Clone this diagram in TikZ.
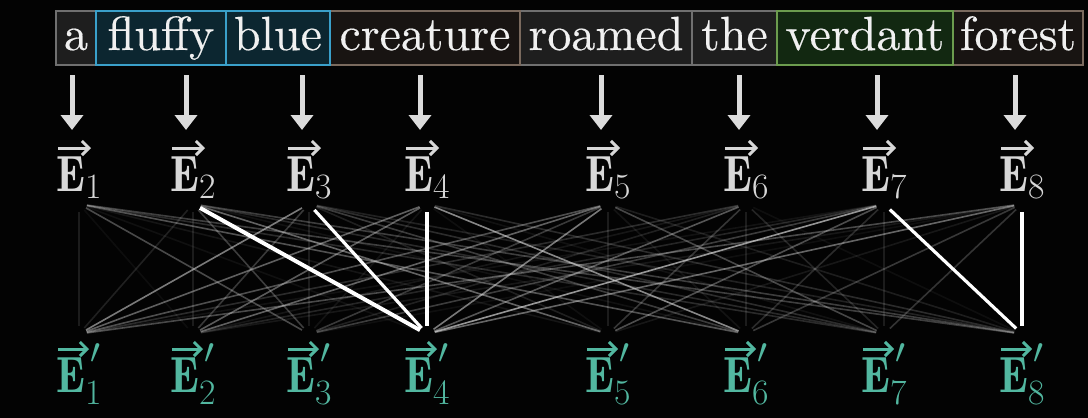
\RequirePackage{fix-cm}
\documentclass[tikz,border=0pt]{standalone}
\usepackage{amsmath}
\usepackage{fontspec}
\newfontfamily\tokfont{lmroman10-regular.otf}[FakeBold=0.3]
\usetikzlibrary{arrows.meta}
\definecolor{bgblack}{RGB}{3,3,3}
\definecolor{tokgrayfill}{RGB}{30,30,30}
\definecolor{tokgrayline}{RGB}{112,112,112}
\definecolor{tokbluefill}{RGB}{12,38,48}
\definecolor{tokblueline}{RGB}{58,160,202}
\definecolor{tokbrownfill}{RGB}{24,20,18}
\definecolor{tokbrownline}{RGB}{122,106,94}
\definecolor{tokgreenfill}{RGB}{18,40,17}
\definecolor{tokgreenline}{RGB}{108,156,78}
\definecolor{toktext}{RGB}{240,240,240}
\definecolor{elabcol}{RGB}{215,215,215}
\definecolor{eplabcol}{RGB}{82,183,160}
\definecolor{arrowcol}{RGB}{220,220,220}
\definecolor{attncol}{RGB}{215,215,215}
\begin{document}
\begin{tikzpicture}[x=0.5pt,y=-0.5pt,
  tok/.style={draw, line width=1pt, inner sep=0pt, text height=19.5pt, text depth=7.5pt,
    text=toktext, font=\tokfont\fontsize{24}{29}\selectfont},
  tokgray/.style={tok, fill=tokgrayfill, draw=tokgrayline},
  tokblue/.style={tok, fill=tokbluefill, draw=tokblueline},
  tokbrown/.style={tok, fill=tokbrownfill, draw=tokbrownline},
  tokgreen/.style={tok, fill=tokgreenfill, draw=tokgreenline},
  tokarrow/.style={draw=arrowcol, line width=2.5pt, -{Triangle[width=11pt,length=7.5pt]}},
  elab/.style={inner sep=0pt, anchor=base west, text=elabcol, font=\fontsize{25.5}{30}\selectfont},
  eplab/.style={inner sep=0pt, anchor=base west, text=eplabcol, font=\fontsize{25.5}{30}\selectfont},
  vecarrow/.style={line width=1.5pt, -{Straight Barb[length=3.5pt,width=7pt]}},
  attn/.style={draw=attncol, line width=0.8pt, shorten >=4pt, shorten <=4pt},
  strong/.style={draw=white, line width=1.6pt, shorten >=4pt, shorten <=4pt}
]
\fill[bgblack] (0,0) rectangle (1088,418);
\useasboundingbox (0,0) rectangle (1088,418);

% token boxes
\node[tokgray,  minimum width=20pt]   (w1) at (76,38)    {a};
\node[tokgray,  minimum width=86pt]   (w5) at (606,38)   {roamed};
\node[tokgray,  minimum width=42.5pt] (w6) at (734.5,38) {the};
\node[tokbrown, minimum width=95pt]   (w4) at (425,38)   {creature};
\node[tokbrown, minimum width=65pt]   (w8) at (1018,38)  {forest};
\node[tokblue,  minimum width=65pt]   (w2) at (161,38)   {fluffy};
\node[tokblue,  minimum width=52pt]   (w3) at (278,38)   {blue};
\node[tokgreen, minimum width=88pt]   (w7) at (865,38)   {verdant};

% columns
\foreach \i/\x in {1/72,2/186,3/302,4/420,5/601,6/739,7/877,8/1015}{
  \coordinate (as\i) at (\x,75);
  \coordinate (ae\i) at (\x,130);
  \draw[tokarrow] (as\i) -- (ae\i);
  \node[elab]  (E\i)  at (\x-16,191) {\scalebox{0.86}[1]{$\mathbf{E}$}$_{\i}$};
  \node[eplab] (Ep\i) at (\x-16,392)
    {\scalebox{0.86}[1]{$\mathbf{E}$}$^{\hspace{2.5pt}\raisebox{5pt}{$\scriptstyle\prime$}}_{\i}$};
  \draw[vecarrow, draw=elabcol]  ([shift={(2,-43)}]E\i.base west)  -- ++(33,0);
  \draw[vecarrow, draw=eplabcol] ([shift={(2,-43)}]Ep\i.base west) -- ++(31,0);
  \coordinate (t\i) at (\x+7,204);
  \coordinate (b\i) at (\x+7,334);
}

% attention lines
\pgfmathsetseed{5}
\foreach \i in {1,...,8}{
  \foreach \j in {1,...,8}{
    \pgfmathsetmacro\op{ifthenelse(\i==\j,0.12,0.05+0.75*rnd*rnd)}
    \draw[attn, draw opacity=\op] (t\i) -- (b\j);
  }
}
\draw[strong, line width=2pt] (t2) -- (b4);
\draw[strong] (t3) -- (b4);
\draw[strong] (t4) -- (b4);
\draw[strong] (t7) -- (b8);
\draw[strong] (t8) -- (b8);
\end{tikzpicture}
\end{document}
